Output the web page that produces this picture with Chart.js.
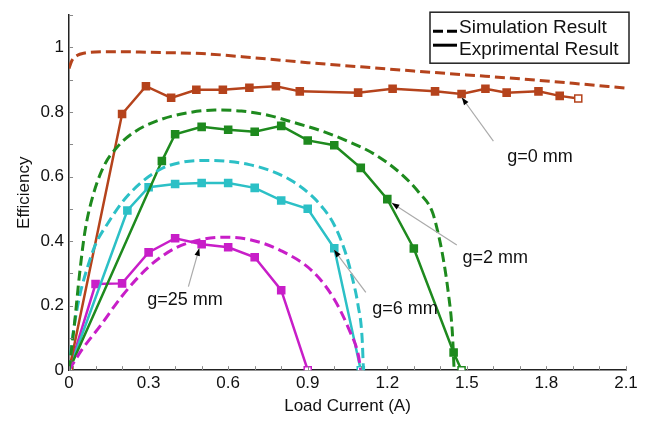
<!DOCTYPE html>
<html lang="en">
<head>
    <meta charset="UTF-8">
    <title>Efficiency vs Load Current</title>
    <style>
        html, body { margin: 0; padding: 0; background: #fff; }
        #wrap { width: 650px; height: 423px; }
    </style>
</head>
<body>
    <div id="wrap"><canvas id="effChart"></canvas></div>

    <script src="https://cdn.jsdelivr.net/npm/chart.js@4.4.1/dist/chart.umd.min.js"></script>
    <script>
        // measured (experimental) points
        var g0X = [0, 0.2, 0.29, 0.385, 0.48, 0.58, 0.68, 0.78, 0.87, 1.09, 1.22, 1.38, 1.48, 1.57, 1.65, 1.77, 1.85, 1.92];
        var g0Y = [0, 0.794, 0.88, 0.844, 0.869, 0.869, 0.875, 0.88, 0.864, 0.86, 0.872, 0.864, 0.856, 0.872, 0.86, 0.864, 0.85, 0.842];

        var g2X = [0, 0.35, 0.40, 0.50, 0.60, 0.70, 0.80, 0.90, 1.0, 1.10, 1.20, 1.30, 1.45, 1.48];
        var g2Y = [0, 0.648, 0.731, 0.754, 0.745, 0.739, 0.757, 0.712, 0.697, 0.627, 0.53, 0.377, 0.055, 0];

        var g6X = [0, 0.22, 0.30, 0.40, 0.50, 0.60, 0.70, 0.80, 0.90, 1.0, 1.1];
        var g6Y = [0, 0.495, 0.567, 0.577, 0.58, 0.58, 0.565, 0.526, 0.50, 0.378, 0];

        var g25X = [0, 0.1, 0.2, 0.3, 0.4, 0.5, 0.6, 0.7, 0.8, 0.9];
        var g25Y = [0, 0.267, 0.269, 0.365, 0.409, 0.39, 0.381, 0.35, 0.248, 0];

        // simulation curves
        var sim0X = [0, 0.01, 0.03, 0.06, 0.1, 0.2, 0.3, 0.5, 0.7, 0.9, 1.1, 1.3, 1.5, 1.7, 1.9, 2.1];
        var sim0Y = [0.935, 0.958, 0.975, 0.983, 0.986, 0.987, 0.985, 0.981, 0.968, 0.953, 0.94, 0.927, 0.915, 0.903, 0.889, 0.874];

        var sim2X = [0, 0.01, 0.02, 0.04, 0.06, 0.09, 0.13, 0.18, 0.25, 0.35, 0.45, 0.55, 0.65, 0.75, 0.85, 0.95, 1.05, 1.15, 1.25, 1.32, 1.37, 1.39, 1.41, 1.43, 1.445, 1.452];
        var sim2Y = [0, 0.07, 0.14, 0.3, 0.43, 0.54, 0.63, 0.69, 0.74, 0.778, 0.798, 0.806, 0.803, 0.79, 0.767, 0.742, 0.71, 0.67, 0.61, 0.55, 0.49, 0.43, 0.35, 0.24, 0.12, 0];

        var sim6X = [0, 0.01, 0.02, 0.04, 0.07, 0.1, 0.15, 0.2, 0.27, 0.35, 0.43, 0.52, 0.6, 0.68, 0.76, 0.84, 0.91, 0.96, 1.0, 1.04, 1.07, 1.09, 1.105, 1.11];
        var sim6Y = [0, 0.08, 0.14, 0.23, 0.32, 0.39, 0.46, 0.52, 0.58, 0.625, 0.645, 0.65, 0.647, 0.637, 0.618, 0.587, 0.544, 0.5, 0.45, 0.37, 0.28, 0.2, 0.1, 0];

        var sim25X = [0, 0.05, 0.12, 0.2, 0.3, 0.4, 0.5, 0.58, 0.68, 0.8, 0.92, 1.0, 1.06, 1.09, 1.1];
        var sim25Y = [0, 0.065, 0.14, 0.23, 0.32, 0.378, 0.405, 0.412, 0.405, 0.37, 0.305, 0.22, 0.118, 0.05, 0];

        // gap labels: text position and arrow (from -> to) in data units
        var noteText = ['g=0 mm', 'g=2 mm', 'g=6 mm', 'g=25 mm'];
        var noteX = [1.776, 1.607, 1.267, 0.437];
        var noteY = [0.66, 0.347, 0.191, 0.217];
        var arrowFrom = [[1.6, 0.71], [1.462, 0.388], [1.119, 0.241], [0.45, 0.259]];
        var arrowTo = [[1.481, 0.845], [1.217, 0.518], [0.999, 0.373], [0.491, 0.378]];

        var brown = '#b5431c', green = '#1e8a1e', cyan = '#2cc0c6', magenta = '#c81ec8';
        var FONT = "'Liberation Sans', Arial, sans-serif";

        function pts(xs, ys) {
            return xs.map(function(x, i) { return { x: x, y: ys[i] }; });
        }

        function measured(xs, ys, color, hollowLast) {
            return {
                data: pts(xs, ys),
                borderColor: color,
                borderWidth: 2.5,
                pointStyle: 'rect',
                pointRadius: 5,
                pointBorderColor: color,
                pointBorderWidth: 1.5,
                pointBackgroundColor: function(ctx) {
                    var last = ctx.dataIndex === xs.length - 1;
                    if (ys[ctx.dataIndex] === 0 || (hollowLast && last)) return '#fff';
                    return color;
                },
                showLine: true,
                tension: 0
            };
        }

        function simulated(xs, ys, color) {
            return {
                data: pts(xs, ys),
                borderColor: color,
                borderWidth: 3,
                borderDash: [10, 5],
                pointRadius: 0,
                showLine: true,
                cubicInterpolationMode: 'monotone'
            };
        }

        var decor = {
            id: 'decor',
            afterDraw: function(chart) {
                var ctx = chart.ctx, xs = chart.scales.x, ys = chart.scales.y, a = chart.chartArea;
                ctx.save();

                // inward tick marks
                ctx.strokeStyle = '#888';
                ctx.lineWidth = 1;
                xs.ticks.forEach(function(t) {
                    var px = Math.round(xs.getPixelForValue(t.value)) + 0.5;
                    ctx.beginPath(); ctx.moveTo(px, a.bottom); ctx.lineTo(px, a.bottom - 4); ctx.stroke();
                });
                ys.ticks.forEach(function(t) {
                    var py = Math.round(ys.getPixelForValue(t.value)) + 0.5;
                    ctx.beginPath(); ctx.moveTo(a.left, py); ctx.lineTo(a.left + 4, py); ctx.stroke();
                });

                // arrows + labels
                for (var i = 0; i < noteText.length; i++) {
                    var x1 = xs.getPixelForValue(arrowFrom[i][0]), y1 = ys.getPixelForValue(arrowFrom[i][1]);
                    var x2 = xs.getPixelForValue(arrowTo[i][0]), y2 = ys.getPixelForValue(arrowTo[i][1]);
                    ctx.strokeStyle = '#aaa';
                    ctx.lineWidth = 1.2;
                    ctx.beginPath(); ctx.moveTo(x1, y1); ctx.lineTo(x2, y2); ctx.stroke();
                    var ang = Math.atan2(y2 - y1, x2 - x1);
                    ctx.fillStyle = '#000';
                    ctx.beginPath();
                    ctx.moveTo(x2, y2);
                    ctx.lineTo(x2 - 8 * Math.cos(ang - 0.35), y2 - 8 * Math.sin(ang - 0.35));
                    ctx.lineTo(x2 - 8 * Math.cos(ang + 0.35), y2 - 8 * Math.sin(ang + 0.35));
                    ctx.closePath();
                    ctx.fill();

                    ctx.font = '18px ' + FONT;
                    ctx.textAlign = 'center';
                    ctx.textBaseline = 'middle';
                    ctx.fillStyle = '#111';
                    ctx.fillText(noteText[i], xs.getPixelForValue(noteX[i]), ys.getPixelForValue(noteY[i]));
                }

                // legend box, top right
                var bw = 199, bh = 51;
                var bx = a.right + 3 - bw, by = a.top - 3;
                ctx.fillStyle = '#fff';
                ctx.fillRect(bx, by, bw, bh);
                ctx.strokeStyle = '#222';
                ctx.lineWidth = 1.5;
                ctx.strokeRect(bx, by, bw, bh);

                ctx.strokeStyle = '#000';
                ctx.lineWidth = 3;
                ctx.setLineDash([10, 4]);
                ctx.beginPath(); ctx.moveTo(bx + 3, by + 19); ctx.lineTo(bx + 28, by + 19); ctx.stroke();
                ctx.setLineDash([]);
                ctx.beginPath(); ctx.moveTo(bx + 3, by + 33); ctx.lineTo(bx + 27, by + 33); ctx.stroke();

                ctx.font = '19px ' + FONT;
                ctx.textAlign = 'left';
                ctx.textBaseline = 'middle';
                ctx.fillStyle = '#111';
                ctx.fillText('Simulation Result', bx + 29, by + 16);
                ctx.fillText('Exprimental Result', bx + 29, by + 38);
                ctx.restore();
            }
        };

        new Chart(document.getElementById('effChart'), {
            type: 'scatter',
            data: {
                datasets: [
                    simulated(sim0X, sim0Y, brown),
                    simulated(sim2X, sim2Y, green),
                    simulated(sim6X, sim6Y, cyan),
                    simulated(sim25X, sim25Y, magenta),
                    measured(g0X, g0Y, brown, true),
                    measured(g2X, g2Y, green, false),
                    measured(g6X, g6Y, cyan, false),
                    measured(g25X, g25Y, magenta, false)
                ]
            },
            options: {
                responsive: true,
                maintainAspectRatio: false,
                animation: false,
                layout: { padding: { left: 7, right: 24, top: 15, bottom: 2 } },
                plugins: {
                    legend: { display: false },
                    tooltip: { enabled: false }
                },
                scales: {
                    x: {
                        type: 'linear',
                        min: 0,
                        max: 2.1,
                        grid: { display: false, drawTicks: false },
                        border: { display: true, color: '#222', width: 1.5 },
                        ticks: {
                            stepSize: 0.1,
                            autoSkip: false,
                            maxRotation: 0,
                            padding: 3,
                            color: '#111',
                            font: { family: FONT, size: 17 },
                            callback: function(v) {
                                var k = Math.round(v * 10);
                                return k % 3 === 0 ? String(k / 10) : '';
                            }
                        },
                        title: {
                            display: true,
                            text: 'Load Current (A)',
                            color: '#111',
                            padding: { top: 0, bottom: 4 },
                            font: { family: FONT, size: 17 }
                        }
                    },
                    y: {
                        min: 0,
                        max: 1.1,
                        grid: { display: false, drawTicks: false },
                        border: { display: true, color: '#222', width: 1.5 },
                        ticks: {
                            stepSize: 0.1,
                            autoSkip: false,
                            padding: 5,
                            color: '#111',
                            font: { family: FONT, size: 17 },
                            callback: function(v) {
                                var k = Math.round(v * 10);
                                return (k % 2 === 0 && k <= 10) ? String(k / 10) : '';
                            }
                        },
                        title: {
                            display: true,
                            text: 'Efficiency',
                            color: '#111',
                            padding: { top: 7, bottom: 1 },
                            font: { family: FONT, size: 17 }
                        }
                    }
                }
            },
            plugins: [decor]
        });
    </script>
</body>
</html>
